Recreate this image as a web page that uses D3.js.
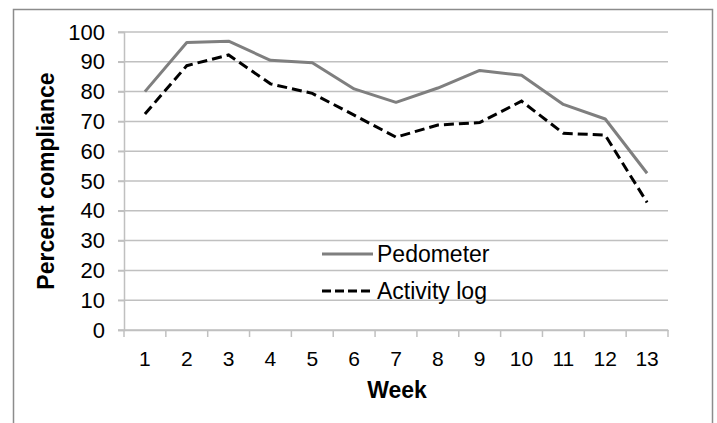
<!DOCTYPE html>
<html>
<head>
<meta charset="utf-8">
<script src="https://cdn.jsdelivr.net/npm/d3@7"></script>
<style>
	body { margin: 0; background: #fff; }
	svg { font-family: "Liberation Sans", Arial, sans-serif; }
</style>
</head>
<body>
<svg id="chart" width="717" height="423"></svg>
<script>
// data
const weeks = [1, 2, 3, 4, 5, 6, 7, 8, 9, 10, 11, 12, 13]
const pedometer = [80, 96.5, 96.9, 90.5, 89.7, 80.9, 76.4, 81.2, 87.1, 85.5, 75.7, 70.8, 52.6]
const activity_log = [72.5, 88.7, 92.3, 82.6, 79.4, 72.1, 64.7, 68.8, 69.6, 76.8, 66, 65.4, 42.8]
const y_ticks = [0, 10, 20, 30, 40, 50, 60, 70, 80, 90, 100]

const W = 717, H = 423
const m = { left: 124, right: 49, top: 32, bottom: 93 }
const FONT = '"Liberation Sans", Arial, sans-serif'

const svg = d3.select('#chart')

// outer frame
svg.append('rect')
	.attr('x', 13.5).attr('y', 9.5)
	.attr('width', 699).attr('height', 430)
	.attr('fill', 'none')
	.attr('stroke', '#8c8c8c')
	.attr('stroke-width', 1.5)

const x = d3.scaleBand()
	.domain(weeks)
	.range([m.left, W - m.right])

const y = d3.scaleLinear()
	.domain([0, 100])
	.range([H - m.bottom, m.top])

// gridlines
svg.append('g')
	.attr('stroke', '#c0c0c0')
	.attr('stroke-width', 1.5)
	.selectAll('line')
	.data(y_ticks)
	.join('line')
	.attr('x1', m.left - 6)
	.attr('x2', W - m.right)
	.attr('y1', d => y(d))
	.attr('y2', d => y(d))

// y axis
const yAxis = svg.append('g')
	.attr('transform', `translate(${m.left},0)`)
	.call(d3.axisLeft(y).tickValues(y_ticks).tickSize(6).tickPadding(13))
yAxis.select('.domain').attr('stroke', '#c0c0c0').attr('stroke-width', 1.5)
yAxis.selectAll('.tick line').attr('stroke', '#c0c0c0').attr('stroke-width', 1.5)
yAxis.selectAll('.tick text')
	.attr('font-size', 22)
	.attr('fill', '#000')
	.attr('font-family', FONT)

// x axis, ticks on band edges like excel
const xAxis = svg.append('g')
	.attr('transform', `translate(0,${y(0)})`)
	.call(d3.axisBottom(x).tickSize(0).tickPadding(21))
xAxis.select('.domain').attr('stroke', '#c0c0c0').attr('stroke-width', 1.5)
xAxis.selectAll('.tick text')
	.attr('font-size', 21)
	.attr('fill', '#000')
	.attr('font-family', FONT)
xAxis.append('g')
	.attr('stroke', '#c0c0c0')
	.attr('stroke-width', 1.5)
	.selectAll('line')
	.data(weeks.concat([null]))
	.join('line')
	.attr('x1', (d, i) => m.left + i * x.step())
	.attr('x2', (d, i) => m.left + i * x.step())
	.attr('y1', 0)
	.attr('y2', 7)

// lines
const line = vals => d3.line()
	.x((d, i) => x(weeks[i]) + x.bandwidth() / 2)
	.y(d => y(d))(vals)

svg.append('path')
	.attr('d', line(pedometer))
	.attr('fill', 'none')
	.attr('stroke', '#7f7f7f')
	.attr('stroke-width', 3)
	.attr('stroke-linejoin', 'round')

svg.append('path')
	.attr('d', line(activity_log))
	.attr('fill', 'none')
	.attr('stroke', '#000')
	.attr('stroke-width', 3)
	.attr('stroke-dasharray', '10,5')

// legend
const legend = svg.append('g')
legend.append('line')
	.attr('x1', 322).attr('x2', 373).attr('y1', 254).attr('y2', 254)
	.attr('stroke', '#7f7f7f').attr('stroke-width', 3)
legend.append('line')
	.attr('x1', 322).attr('x2', 374).attr('y1', 291).attr('y2', 291)
	.attr('stroke', '#000').attr('stroke-width', 3)
	.attr('stroke-dasharray', '9,4')
legend.selectAll('text')
	.data(['Pedometer', 'Activity log'])
	.join('text')
	.attr('x', 377)
	.attr('y', (d, i) => 254 + i * 37)
	.attr('dy', '0.35em')
	.attr('font-size', 23)
	.text(d => d)

// axis titles
svg.append('text')
	.attr('x', 397).attr('y', 390)
	.attr('text-anchor', 'middle')
	.attr('dy', '0.35em')
	.attr('font-size', 23)
	.attr('font-weight', 'bold')
	.text('Week')

svg.append('text')
	.attr('transform', `translate(46,${y(50)}) rotate(-90)`)
	.attr('text-anchor', 'middle')
	.attr('dy', '0.35em')
	.attr('font-size', 23)
	.attr('font-weight', 'bold')
	.text('Percent compliance')
</script>
</body>
</html>
